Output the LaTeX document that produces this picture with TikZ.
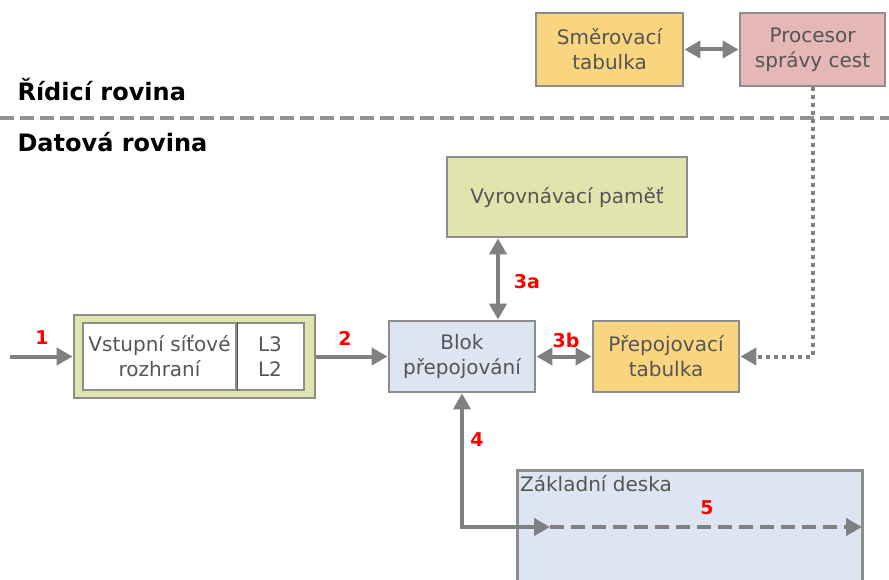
\documentclass[tikz,border=0pt]{standalone}
\usepackage{fontspec}
\setmainfont{DejaVu Sans}
\usetikzlibrary{arrows.meta,calc,positioning}
\definecolor{LineGray}{HTML}{808080}
\definecolor{TextGray}{HTML}{555555}
\definecolor{PlaneRed}{HTML}{FF0000}
\definecolor{TableOrange}{HTML}{F9D580}
\definecolor{ProcPink}{HTML}{E5B7B6}
\definecolor{BufOlive}{HTML}{E2E4AD}
\definecolor{BlockBlue}{HTML}{DCE5F1}

\begin{document}
\begin{tikzpicture}[x=1pt,y=-1pt,
      box/.style={rectangle,draw=LineGray!90,line width=2.8pt,inner sep=0pt,align=center,
      text=TextGray,font=\fontsize{20}{25}\selectfont},
      num/.style={text=PlaneRed,font=\fontsize{19}{21}\selectfont\bfseries},
      plane/.style={anchor=west,font=\fontsize{24}{28}\selectfont\bfseries},
      arr/.style={-{Triangle[length=16pt,width=17pt]},LineGray,line width=4pt},
      dbl/.style={{Triangle[length=16pt,width=17pt]}-{Triangle[length=16pt,width=17pt]},
      LineGray,line width=4pt}]
      \clip (0,0) rectangle (889,580);
      \node[box,fill=TableOrange,minimum width=147,minimum height=73] (smer) at (609.5,49.5)
        {Směrovací\\tabulka};
      \node[box,fill=ProcPink,minimum width=145,minimum height=73] (proc) at (812.5,49.5)
        {Procesor\\správy cest};
      \draw[dbl] (smer) -- (proc);
      \node[plane] (ctrl) at (14,90) {Řídicí rovina};
      \node[plane] (data) at (14,142) {Datová rovina};
      \coordinate (sepL) at (0,118);
      \coordinate (sepR) at (889,118);
      \draw[LineGray!85,line width=4pt,dash pattern=on 14pt off 6pt] (sepL) -- (sepR);
      \node[box,fill=BufOlive,minimum width=240,minimum height=80] (buf) at (567,197)
        {Vyrovnávací paměť};
      \node[box,fill=BlockBlue,minimum width=146,minimum height=71] (blok) at (462,356.5)
        {Blok\\přepojování};
      \node[box,fill=TableOrange,minimum width=146,minimum height=71] (prep) at (666,356.5)
        {Přepojovací\\tabulka};
      \node[box,fill=BufOlive,minimum width=241,minimum height=83] (iface) at (194.5,356.5) {};
      \node[box,fill=white,line width=2.4pt,minimum width=153,minimum height=67] (vst) at (159.5,356.5)
        {Vstupní síťové\\rozhraní};
      \node[box,fill=white,line width=2.4pt,minimum width=68,minimum height=67,right=-2.4pt of vst]
        (lay) {L3\\L2};
      \draw[TextGray,line width=1.4pt] (vst.north east) -- (vst.south east);
      \node[box,fill=BlockBlue,minimum width=345,minimum height=140,anchor=north west] (deska)
        at (516,469) {};
      \node[anchor=north west,text=TextGray,font=\fontsize{20}{24}\selectfont,inner sep=2pt]
        (deskat) at ([xshift=2pt,yshift=-4pt]deska.north west) {Základní deska};
      \coordinate (in) at (10,356.5);
      \draw[arr] (in) -- (iface.west);
      \draw[arr] (iface.east) -- (blok.west);
      \draw[dbl] (blok.east) -- (prep.west);
      \draw[dbl] ([xshift=36pt]blok.north) -- ([xshift=36pt]blok.north |- buf.south);
      \coordinate (busA) at (550,527);
      \coordinate (busB) at (862,527);
      \draw[dbl] (blok.south) |- (busA);
      \draw[arr,dash pattern=on 14pt off 7pt] (busA) -- (busB);
      \draw[arr,dash pattern=on 4pt off 4pt] (proc.south) |- (prep.east);
      \node[num] (n1) at (42,338) {1};
      \node[num] (n2) at (345,338) {2};
      \node[num] (n3a) at (527,282) {3a};
      \node[num] (n3b) at (566,340) {3b};
      \node[num] (n4) at (477,440) {4};
      \node[num] (n5) at (707,508) {5};
    \end{tikzpicture}
\end{document}
